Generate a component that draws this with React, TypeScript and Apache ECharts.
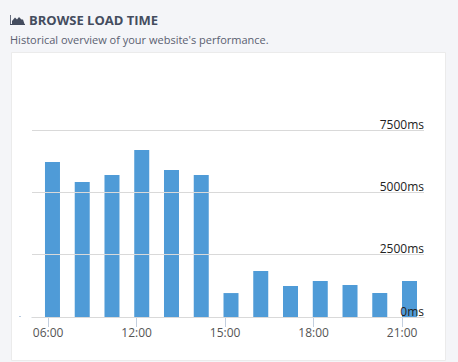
import React, { useEffect, useRef } from "react";
import * as echarts from "echarts";

const categories = ["06:00", "08:00", "10:00", "12:00", "13:00", "14:00", "15:00", "16:00", "17:00", "18:00", "19:00", "20:00", "21:00"];
const loadTimes = [6215, 5410, 5700, 6700, 5895, 5700, 960, 1845, 1243, 1444, 1283, 962, 1444];
const title = "BROWSE LOAD TIME";
const subtitle = "Historical overview of your website's performance.";
const FONT = '"Open Sans", sans-serif';

const ICON = "M0 0 L0.8 0 L0.8 9 L15 9 L15 10 L0 10 Z M2 9 L2 6 L5 2.5 L7 4.5 L9 2 L11.5 4.5 L13 4.5 L14.5 9 Z";
echarts.graphic.registerShape("areaIcon", echarts.graphic.extendPath(ICON, {}));

export default function App() {
  const ref = useRef<HTMLDivElement>(null);
  useEffect(() => {
    const chart = echarts.init(ref.current!, null, { renderer: "svg", width: 458, height: 362 });
    const yBase = {
      type: "value",
      min: 0,
      max: 7500,
      interval: 2500,
      axisLine: { show: false },
      axisTick: { show: false },
      splitLine: { show: false },
      axisLabel: { show: false },
    };
    const top = 130;
    const height = 187;
    const axisColor = "#c3cfdf";
    chart.setOption({
      animation: false,
      backgroundColor: "#f4f5f8",
      grid: [
        { left: 37.6, top, width: 386.8, height },
        { left: 33.35, top, width: 383.5, height },
        { left: 32, top, width: 392, height },
      ],
      xAxis: [
        {
          gridIndex: 0,
          type: "category",
          data: categories,
          axisLine: { show: false },
          axisTick: { show: false },
          axisLabel: { show: false },
        },
        {
          gridIndex: 1,
          type: "category",
          data: categories,
          axisLine: { show: false },
          axisTick: { show: true, alignWithLabel: true, interval: 2, length: 10, lineStyle: { color: axisColor } },
          axisLabel: { interval: 2, color: "#555555", fontFamily: FONT, fontSize: 12, margin: 9 },
        },
        {
          gridIndex: 2,
          type: "category",
          data: categories,
          axisLine: { lineStyle: { color: axisColor, width: 1 } },
          axisTick: { show: false },
          axisLabel: { show: false },
        },
      ],
      yAxis: [
        { ...yBase, gridIndex: 0 },
        { ...yBase, gridIndex: 1 },
        {
          ...yBase,
          gridIndex: 2,
          position: "right",
          splitLine: { show: true, lineStyle: { color: "#d9d9d9", width: 1 } },
          axisLabel: {
            show: true,
            inside: true,
            margin: 0,
            color: "#222222",
            fontFamily: FONT,
            fontSize: 12,
            verticalAlign: "bottom",
            align: "right",
            formatter: (v: number) => `${v}ms`,
          },
          z: 5,
        },
      ],
      series: [
        {
          type: "bar",
          xAxisIndex: 0,
          yAxisIndex: 0,
          data: loadTimes,
          barWidth: 15,
          itemStyle: { color: "#4f9bd7" },
          z: 2,
        },
      ],
      graphic: [
        {
          type: "rect",
          z: -10,
          shape: { x: 11.5, y: 52.5, width: 434, height: 308 },
          style: { fill: "#ffffff", stroke: "#ebebeb", lineWidth: 1 },
        },
        { type: "areaIcon", x: 10, y: 15, style: { fill: "#444c5e" } },
        {
          type: "text",
          x: 29,
          y: 20,
          style: { text: title, fill: "#444c5e", font: `bold 13px ${FONT}`, textVerticalAlign: "middle" },
        },
        {
          type: "text",
          x: 10,
          y: 39,
          style: { text: subtitle, fill: "#5a6070", font: `11px ${FONT}`, textVerticalAlign: "middle" },
        },
        {
          type: "rect",
          shape: { x: 19, y: 316, width: 2, height: 1 },
          style: { fill: "#b9cbe0" },
        },
      ],
    });
    return () => chart.dispose();
  }, []);
  return <div ref={ref} style={{ position: "absolute", left: 0, top: 0, width: 458, height: 362 }} />;
}
